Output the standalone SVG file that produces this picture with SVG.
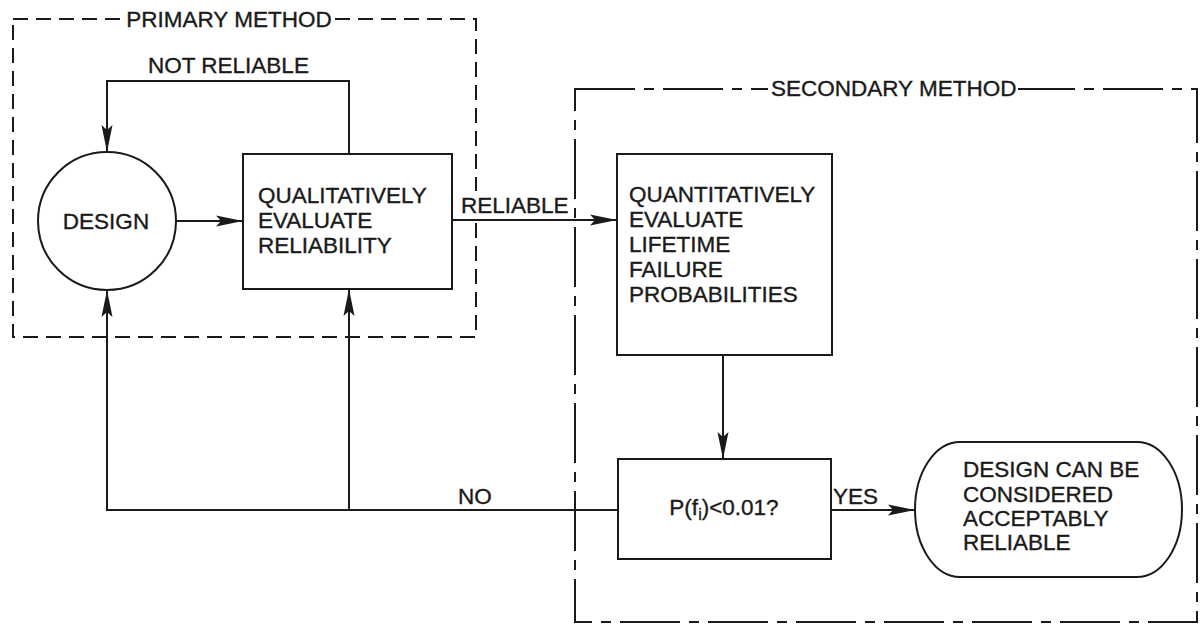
<svg xmlns="http://www.w3.org/2000/svg" width="1201" height="626" viewBox="0 0 1201 626">
<style>
.t{font-family:"Liberation Sans",Arial,sans-serif;font-size:22.5px;fill:#1a1a1a;stroke:#1a1a1a;stroke-width:0.35}
.n{fill:#fff;stroke:#1a1a1a;stroke-width:2}
.c{fill:none;stroke:#1a1a1a;stroke-width:2}
.g1{fill:none;stroke:#1a1a1a;stroke-width:2;stroke-dasharray:15 8}
.g2{fill:none;stroke:#1a1a1a;stroke-width:2;stroke-dasharray:60 9 10 9}
</style>
<defs>
<marker id="ah" markerWidth="28" markerHeight="12" viewBox="-27 -6 28 12" refX="0" refY="0" orient="auto" markerUnits="userSpaceOnUse">
<path d="M0,0 L-27,-5.5 L-22,0 L-27,5.5 Z" fill="#1a1a1a"/>
</marker>
</defs>
<rect width="1201" height="626" fill="#fff"/>
<g id="primary-method">
<rect class="g1" x="13" y="19" width="463" height="318"/>
<rect x="126" y="6" width="207" height="26" fill="#fff"/>
<text class="t" x="229" y="27" text-anchor="middle">PRIMARY METHOD</text>
</g>
<g id="secondary-method">
<rect class="g2" x="575" y="89" width="622" height="533"/>
<rect x="768" y="76" width="250" height="26" fill="#fff"/>
<text class="t" x="771" y="96">SECONDARY METHOD</text>
</g>
<g id="connectors">
<rect x="466" y="191" width="20" height="24" fill="#fff"/>
<path class="c" d="M176,221 H243" marker-end="url(#ah)"/>
<path class="c" d="M349,154 V81 H107 V152" marker-end="url(#ah)"/>
<path class="c" d="M452,220 H617" marker-end="url(#ah)"/>
<path class="c" d="M723,355 V459" marker-end="url(#ah)"/>
<path class="c" d="M831,510 H915" marker-end="url(#ah)"/>
<path class="c" d="M618,510 H107 V290" marker-end="url(#ah)"/>
<path class="c" d="M349,510 V289" marker-end="url(#ah)"/>
<text class="t" x="148" y="73">NOT RELIABLE</text>
<text class="t" x="461" y="213">RELIABLE</text>
<text class="t" x="833" y="504">YES</text>
<text class="t" x="458" y="504">NO</text>
</g>
<g id="design">
<circle class="n" cx="107" cy="221" r="69"/>
<text class="t" x="106" y="229" text-anchor="middle">DESIGN</text>
</g>
<g id="qualitative">
<rect class="n" x="243" y="154" width="209" height="135"/>
<text class="t" x="258" y="203">QUALITATIVELY</text>
<text class="t" x="258" y="228">EVALUATE</text>
<text class="t" x="258" y="253">RELIABILITY</text>
</g>
<g id="quantitative">
<rect class="n" x="617" y="154" width="215" height="201"/>
<text class="t" x="629" y="202">QUANTITATIVELY</text>
<text class="t" x="629" y="227">EVALUATE</text>
<text class="t" x="629" y="252">LIFETIME</text>
<text class="t" x="629" y="277">FAILURE</text>
<text class="t" x="629" y="302">PROBABILITIES</text>
</g>
<g id="decision">
<rect class="n" x="618" y="459" width="213" height="100"/>
<text class="t" x="724" y="515" text-anchor="middle">P(f<tspan font-size="16" dy="5">i</tspan><tspan dy="-5">)&lt;0.01?</tspan></text>
</g>
<g id="acceptable">
<rect class="n" x="915" y="442" width="267" height="135" rx="45" ry="67.5"/>
<text class="t" x="963" y="477">DESIGN CAN BE</text>
<text class="t" x="963" y="502">CONSIDERED</text>
<text class="t" x="963" y="526">ACCEPTABLY</text>
<text class="t" x="963" y="550">RELIABLE</text>
</g>
</svg>
